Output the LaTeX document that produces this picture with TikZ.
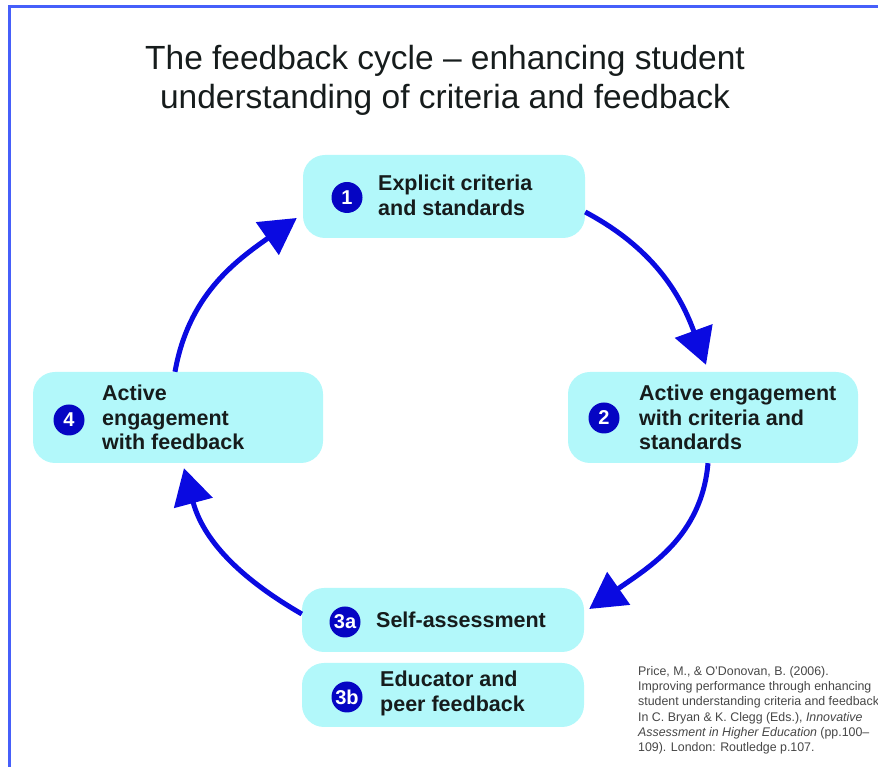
\documentclass[tikz,border=0pt]{standalone}
\usepackage{fontspec}
\setmainfont{Liberation Sans}
\newfontfamily\fbnarrow[FakeStretch=0.99]{Liberation Sans}
\usetikzlibrary{arrows.meta}
\definecolor{fbblue}{RGB}{10,10,225}
\definecolor{fbnavy}{RGB}{5,5,195}
\definecolor{fbcyan}{RGB}{178,248,250}
\definecolor{fbframe}{RGB}{70,95,250}
\definecolor{fbdark}{RGB}{22,28,28}
\definecolor{fbgrey}{RGB}{70,70,70}
\def\fbBox#1#2#3#4#5{%
  \node[fbbox, minimum width=#4, minimum height=#5] (#1) at (#2,#3) {};}
\def\fbNum#1#2#3#4{%
  \node[fbnum] (#1) at (#2,#3) {#4};}
\def\fbText#1#2#3#4{%
  \node[fbtxt] (#1) at (#2,#3) {#4};}

\begin{document}
\begin{tikzpicture}[
    x=1pt, y=1pt,
    fbbox/.style   = {fill=fbcyan, rounded corners=22pt, inner sep=0pt},
    fbnum/.style   = {circle, fill=fbnavy, text=white, minimum size=31pt, inner sep=0pt,
                      font=\fontsize{20}{20}\selectfont\bfseries},
    fbtxt/.style   = {anchor=west, align=left, text=fbdark, inner sep=0pt,
                      font=\fontsize{21.5}{24.5}\selectfont\bfseries},
    fbtitle/.style = {align=center, text=fbdark, inner sep=0pt,
                      font=\fontsize{33.5}{39}\selectfont},
    fbref/.style   = {anchor=north west, align=left, text=fbgrey, inner sep=0pt,
                      font=\fbnarrow\fontsize{12.5}{15.3}\selectfont},
    fbarr/.style   = {fbblue, line width=5pt, -{Triangle[length=36pt,width=39pt]}}]

  \useasboundingbox (0,0) rectangle (878,767);

  % frame, only top and left edges show
  \draw[fbframe, line width=3pt] (9,0) -- (9,760.5) -- (878,760.5);

  \node[fbtitle] (title) at (445,687)
    {The feedback cycle – enhancing student\\understanding of criteria and feedback};

  %% ---- boxes ---------------------------------------------------------
  \fbBox{explicit}{444}{570.5}{282}{83}
  \fbBox{engage}{713}{349.5}{290}{91}
  \fbBox{active}{178}{349.5}{290}{91}
  \fbBox{self}{443}{147}{282}{64}
  \fbBox{peer}{443}{72}{282}{64}

  \fbNum{n1}{347}{569.5}{1}
  \fbNum{n2}{604}{349}{2}
  \fbNum{n4}{69}{347}{4}
  \fbNum{n3a}{345}{145}{3a}
  \fbNum{n3b}{347}{70}{3b}

  \fbText{t1}{378}{571.5}{Explicit criteria\\and standards}
  \fbText{t2}{639}{349.5}{Active engagement\\with criteria and\\standards}
  \fbText{t4}{102}{349.5}{Active\\engagement\\with feedback}
  \fbText{t3a}{376}{147}{Self-assessment}
  \fbText{t3b}{380}{73.5}{Educator and\\peer feedback}

  %% ---- cycle arrows --------------------------------------------------
  \coordinate (a12s) at ([yshift=-15.5pt]explicit.east);
  \coordinate (a12e) at ([xshift=-7pt, yshift=7pt]engage.north);
  \coordinate (a23s) at ([xshift=-5pt]engage.south);
  \coordinate (a23e) at ([xshift=5pt, yshift=11pt]self.east);
  \coordinate (a34s) at ([yshift=6pt]self.west);
  \coordinate (a34e) at ([xshift=6pt, yshift=-5pt]active.south);
  \coordinate (a41s) at ([xshift=-3pt]active.north);
  \coordinate (a41e) at ([xshift=-6pt, yshift=-21.5pt]explicit.west);

  \draw[fbarr] (a12s) to[out=-28, in=110] (a12e);
  \draw[fbarr] (a23s) to[out=-95, in=35] (a23e);
  \draw[fbarr] (a34s) to[out=150, in=-75] (a34e);
  \draw[fbarr] (a41s) to[out=80, in=-145] (a41e);

  %% ---- reference -----------------------------------------------------
  \node[fbref] (cite) at (638,101)
    {Price, M., \& O’Donovan, B. (2006).\\
     Improving performance through enhancing\\
     student understanding criteria and feedback\\
     In C. Bryan \& K. Clegg (Eds.), \textit{Innovative}\\
     \textit{Assessment in Higher Education} (pp.100–\\
     109). London: Routledge p.107.};
\end{tikzpicture}
\end{document}
